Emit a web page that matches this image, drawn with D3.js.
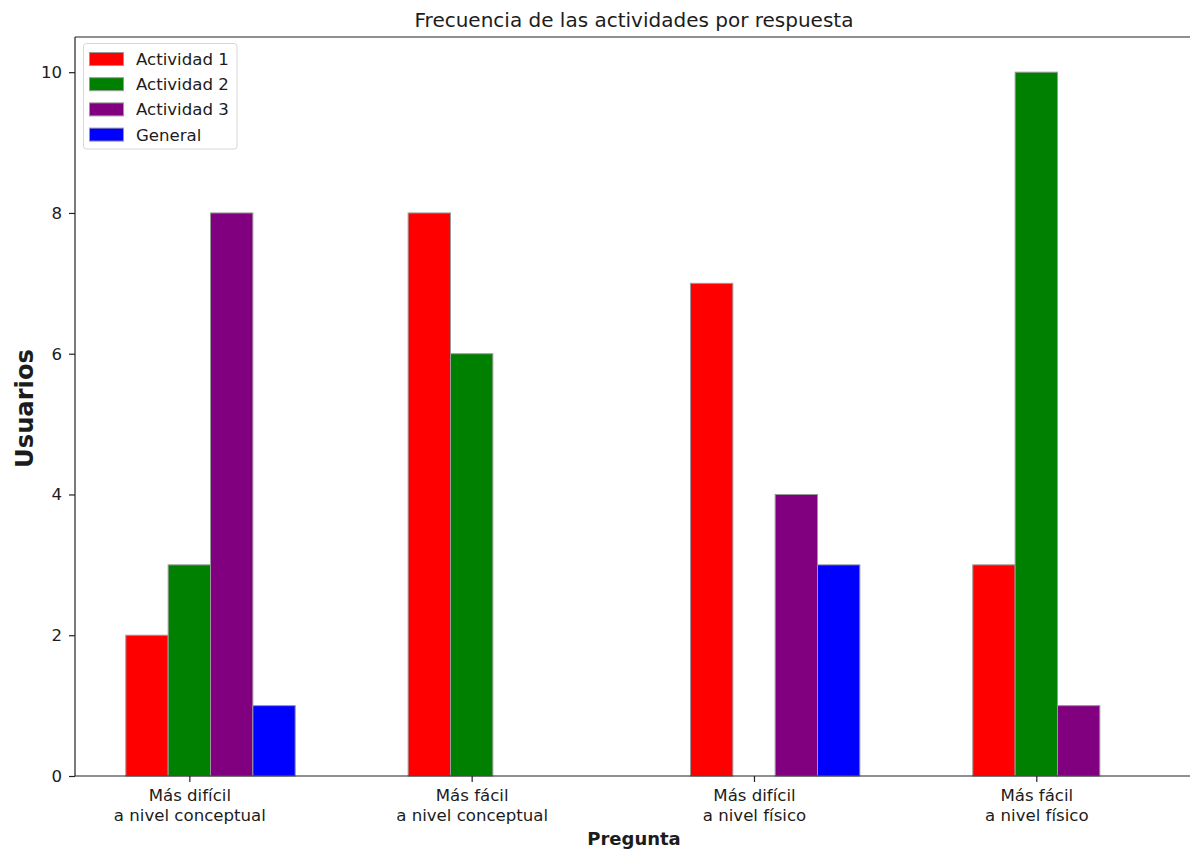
<!DOCTYPE html>
<html>
<head>
<meta charset="utf-8">
<script src="https://cdn.jsdelivr.net/npm/d3@7"></script>
<style>
  html, body { margin: 0; padding: 0; background: #fff; }
  svg { display: block; font-family: "DejaVu Sans", sans-serif; }
</style>
</head>
<body>
<svg id="chart" width="1190" height="852"></svg>
<script>
// Categories (question answers), two lines each
const categories = [
  ["Más difícil", "a nivel conceptual"],
  ["Más fácil", "a nivel conceptual"],
  ["Más difícil", "a nivel físico"],
  ["Más fácil", "a nivel físico"]
];
const seriesNames = ["Actividad 1", "Actividad 2", "Actividad 3", "General"];
const seriesColors = ["#ff0000", "#008000", "#800080", "#0000ff"];
const actividad1 = [2, 8, 7, 3];
const actividad2 = [3, 6, 0, 10];
const actividad3 = [8, 0, 4, 1];
const general    = [1, 0, 3, 0];
const yTicks = [0, 2, 4, 6, 8, 10];

const seriesValues = [actividad1, actividad2, actividad3, general];
const barWidth = 0.15;
const textColor = "#1c1c1c";

const svg = d3.select("#chart");
const plotLeft = 75, plotRight = 1193, plotTop = 37, plotBottom = 776;

// x in "category units": bar i of group g sits at g + i*barWidth
const x = d3.scaleLinear().domain([-0.255, 3.705]).range([plotLeft, plotRight]);
const y = d3.scaleLinear().domain([0, 10.5]).range([plotBottom, plotTop]);

// Bars
seriesValues.forEach((vals, s) => {
  svg.append("g").selectAll("rect")
    .data(vals)
    .join("rect")
    .attr("x", (d, g) => x(g + s * barWidth - barWidth / 2))
    .attr("width", (d, g) => x(g + s * barWidth + barWidth / 2) - x(g + s * barWidth - barWidth / 2))
    .attr("y", d => y(d))
    .attr("height", d => y(0) - y(d))
    .attr("fill", seriesColors[s])
    .attr("stroke", "#9a9a9a")
    .attr("stroke-width", 1);
});

// Spines
const spines = svg.append("g").attr("stroke", "#222").attr("stroke-width", 1.2).attr("fill", "none");
spines.append("line").attr("x1", plotLeft).attr("x2", plotLeft).attr("y1", plotTop).attr("y2", plotBottom);
spines.append("line").attr("x1", plotLeft).attr("x2", plotRight).attr("y1", plotTop).attr("y2", plotTop);
spines.append("line").attr("x1", plotLeft).attr("x2", plotRight).attr("y1", plotBottom).attr("y2", plotBottom);
spines.append("line").attr("x1", plotRight).attr("x2", plotRight).attr("y1", plotTop).attr("y2", plotBottom);

// Y axis
const yAxis = d3.axisLeft(y).tickValues(yTicks).tickSize(6).tickPadding(7).tickFormat(d3.format("d"));
const gy = svg.append("g").attr("transform", `translate(${plotLeft},0)`).call(yAxis);
gy.select(".domain").remove();
gy.selectAll("text").attr("font-size", 16.6).attr("font-family", "DejaVu Sans").attr("fill", textColor);
gy.selectAll("line").attr("stroke", "#222").attr("stroke-width", 1.2);

// X axis: tick at the second bar of each group
const xAxis = d3.axisBottom(x).tickValues(d3.range(categories.length).map(g => g + barWidth)).tickSize(6).tickFormat("");
const gx = svg.append("g").attr("transform", `translate(0,${plotBottom})`).call(xAxis);
gx.select(".domain").remove();
gx.selectAll("line").attr("stroke", "#222").attr("stroke-width", 1.2);
gx.selectAll(".tick").each(function(d, i) {
  const t = d3.select(this).append("text")
    .attr("text-anchor", "middle").attr("font-size", 16.6).attr("fill", textColor)
    .attr("font-family", "DejaVu Sans");
  categories[i].forEach((line, k) => {
    t.append("tspan").attr("x", 0).attr("y", 25 + k * 19.5).text(line);
  });
});

// Title and axis labels
svg.append("text").attr("x", (plotLeft + plotRight) / 2).attr("y", 27)
  .attr("text-anchor", "middle").attr("font-size", 20).attr("fill", textColor)
  .text("Frecuencia de las actividades por respuesta");
svg.append("text").attr("x", (plotLeft + plotRight) / 2).attr("y", 845)
  .attr("text-anchor", "middle").attr("font-size", 18).attr("font-weight", "bold").attr("fill", textColor)
  .text("Pregunta");
svg.append("text").attr("transform", `translate(33,${(plotTop + plotBottom) / 2 + 2}) rotate(-90)`)
  .attr("text-anchor", "middle").attr("font-size", 24.2).attr("font-weight", "bold").attr("fill", textColor)
  .text("Usuarios");

// Legend
const legend = svg.append("g");
legend.append("rect").attr("x", 83.5).attr("y", 43.5).attr("width", 153.5).attr("height", 105.5)
  .attr("rx", 3).attr("fill", "#fff").attr("fill-opacity", 0.8).attr("stroke", "#d6d6d6");
seriesNames.forEach((name, i) => {
  const cy = 59 + i * 25.2;
  legend.append("rect").attr("x", 89.5).attr("y", cy - 6.5).attr("width", 34).attr("height", 13)
    .attr("fill", seriesColors[i]).attr("stroke", "#9a9a9a").attr("stroke-width", 1);
  legend.append("text").attr("x", 136).attr("y", cy + 6).attr("font-size", 16.6).attr("fill", textColor)
    .text(name);
});
</script>
</body>
</html>
